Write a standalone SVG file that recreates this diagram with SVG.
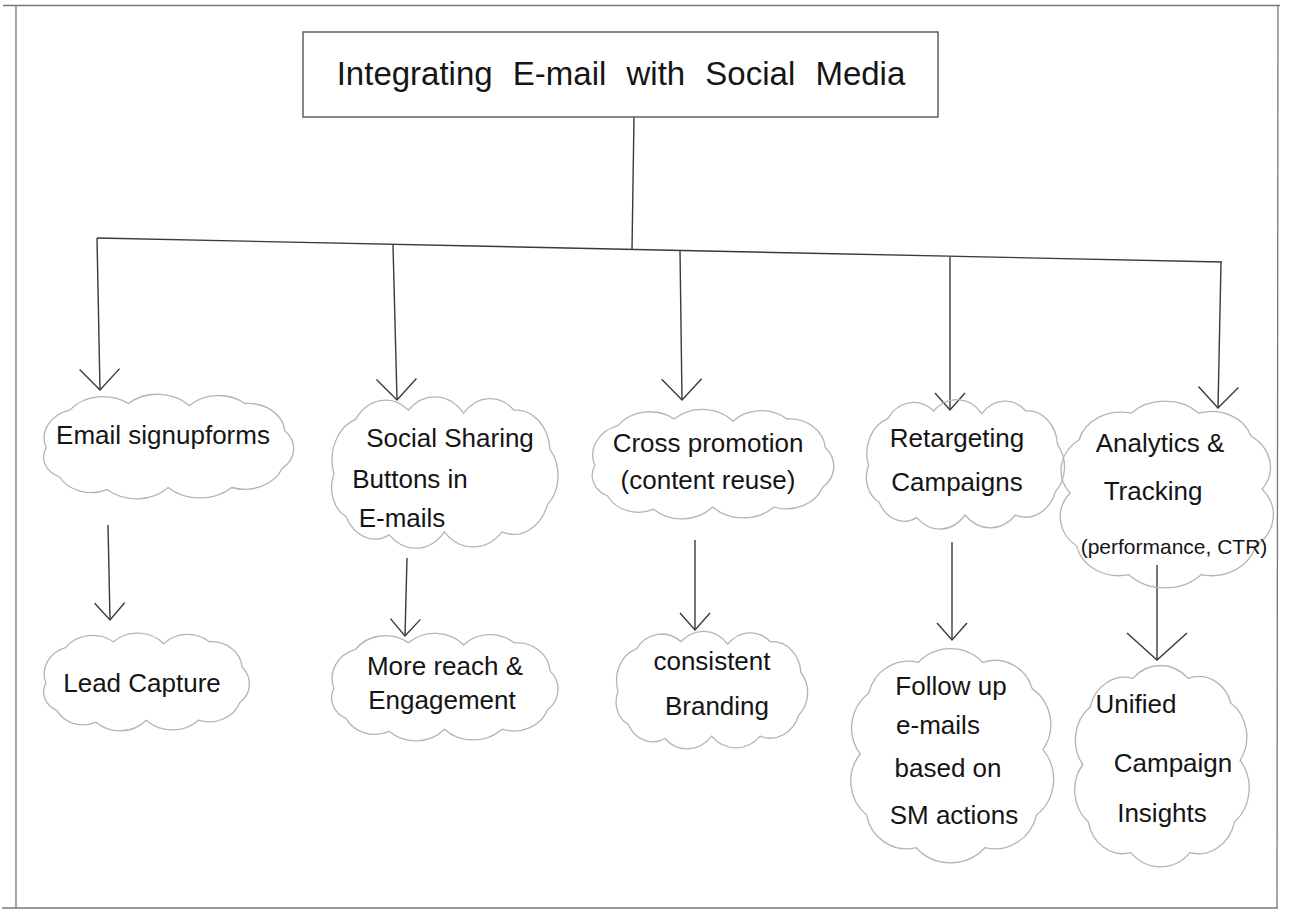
<svg xmlns="http://www.w3.org/2000/svg" xmlns:xlink="http://www.w3.org/1999/xlink" width="1290" height="913" viewBox="0 0 1290 913">
<style>
.page{stroke:#777;stroke-width:1.3;fill:none}
.box{stroke:#555;stroke-width:1.4;fill:none}
.conn{stroke:#3a3a3a;stroke-width:1.4;fill:none}
.cl{stroke:#b4b4b4;stroke-width:1.3;fill:none}
text{font-family:"Liberation Sans",Arial,sans-serif;fill:#151515;text-anchor:middle;dominant-baseline:middle}
.t{font-size:26px}
.title{font-size:33px;word-spacing:11px}
</style>
<defs>
<path id="cloudW" vector-effect="non-scaling-stroke" d="M10,52 A28,28 0 0 1 28,16 A31,31 0 0 1 72,10 A32,32 0 0 1 118,12 A30,30 0 0 1 160,10 A28,28 0 0 1 190,36 A25,25 0 0 1 188,72 A30,30 0 0 1 150,90 A34,34 0 0 1 102,90 A32,32 0 0 1 56,92 A27,27 0 0 1 20,80 A21,21 0 0 1 10,52 Z"/>
<path id="cloudT" vector-effect="non-scaling-stroke" d="M8,50 A20,20 0 0 1 12,22 A19,19 0 0 1 35,8 A21,21 0 0 1 65,8 A18,18 0 0 1 88,20 A20,20 0 0 1 93,48 A21,21 0 0 1 90,78 A20,20 0 0 1 66,93 A22,22 0 0 1 34,93 A19,19 0 0 1 11,78 A20,20 0 0 1 8,50 Z"/>
<marker id="big" viewBox="-24 -22 27 44" refX="0" refY="0" markerWidth="27" markerHeight="44" markerUnits="userSpaceOnUse" orient="auto">
<path d="M-21,-20 L0,0 L-21,20" fill="none" stroke="#3a3a3a" stroke-width="1.4"/>
</marker>
<marker id="mid" viewBox="-20 -18 23 36" refX="0" refY="0" markerWidth="23" markerHeight="36" markerUnits="userSpaceOnUse" orient="auto">
<path d="M-17,-15 L0,0 L-17,15" fill="none" stroke="#3a3a3a" stroke-width="1.4"/>
</marker>
<marker id="huge" viewBox="-30 -34 33 68" refX="0" refY="0" markerWidth="33" markerHeight="68" markerUnits="userSpaceOnUse" orient="auto">
<path d="M-27,-30 L0,0 L-27,30" fill="none" stroke="#3a3a3a" stroke-width="1.4"/>
</marker>
</defs>
<rect width="1290" height="913" fill="#ffffff"/>
<g id="page">
<line class="page" x1="3" y1="5.5" x2="1280" y2="5.5"/>
<line class="page" x1="16" y1="5" x2="16" y2="908"/>
<line class="page" x1="1278" y1="5" x2="1277" y2="908"/>
<line class="page" x1="2" y1="908" x2="1278" y2="908"/>
</g>
<g id="connectors">
<line class="conn" x1="634" y1="117" x2="632" y2="250"/>
<line class="conn" x1="97" y1="238" x2="1222" y2="262"/>
<line class="conn" x1="97" y1="238" x2="100" y2="390" marker-end="url(#big)"/>
<line class="conn" x1="393" y1="245" x2="397" y2="400" marker-end="url(#big)"/>
<line class="conn" x1="680" y1="251" x2="682" y2="400" marker-end="url(#big)"/>
<line class="conn" x1="950" y1="257" x2="950" y2="410" marker-end="url(#mid)"/>
<line class="conn" x1="1221" y1="262" x2="1218" y2="408" marker-end="url(#big)"/>
<line class="conn" x1="108" y1="525" x2="110" y2="620" marker-end="url(#mid)"/>
<line class="conn" x1="407" y1="558" x2="405" y2="636" marker-end="url(#mid)"/>
<line class="conn" x1="695" y1="540" x2="695" y2="630" marker-end="url(#mid)"/>
<line class="conn" x1="952" y1="542" x2="952" y2="640" marker-end="url(#mid)"/>
<line class="conn" x1="1157" y1="565" x2="1157" y2="660" marker-end="url(#huge)"/>
</g>
<g id="title">
<rect class="box" x="303" y="32" width="635" height="85"/>
<text class="title" x="621" y="76">Integrating E-mail with Social Media</text>
</g>
<g id="email-signup">
<use class="cl" href="#cloudW" transform="translate(33,393) scale(1.325,1.05)"/>
<text class="t" x="163" y="437">Email signupforms</text>
</g>
<g id="lead-capture">
<use class="cl" href="#cloudW" transform="translate(35,632) scale(1.09,0.98)"/>
<text class="t" x="142" y="685">Lead Capture</text>
</g>
<g id="social-sharing">
<use class="cl" href="#cloudW" transform="translate(322,395) scale(1.2,1.52)"/>
<text class="t" x="450" y="440">Social Sharing</text>
<text class="t" x="410" y="481">Buttons in</text>
<text class="t" x="402" y="520">E-mails</text>
</g>
<g id="more-reach">
<use class="cl" href="#cloudW" transform="translate(322,632) scale(1.2,1.08)"/>
<text class="t" x="445" y="668">More reach &amp;</text>
<text class="t" x="442" y="702">Engagement</text>
</g>
<g id="cross-promotion">
<use class="cl" href="#cloudW" transform="translate(582,408) scale(1.28,1.1)"/>
<text class="t" x="708" y="445">Cross promotion</text>
<text class="t" x="708" y="482">(content reuse)</text>
</g>
<g id="consistent-branding">
<use class="cl" href="#cloudW" transform="translate(608,630) scale(1.015,1.18)"/>
<text class="t" x="712" y="663">consistent</text>
<text class="t" x="717" y="708">Branding</text>
</g>
<g id="retargeting">
<use class="cl" href="#cloudW" transform="translate(858,398) scale(1.05,1.3)"/>
<text class="t" x="957" y="440">Retargeting</text>
<text class="t" x="957" y="484">Campaigns</text>
</g>
<g id="follow-up">
<use class="cl" href="#cloudT" transform="translate(843,645) scale(2.15,2.18)"/>
<text class="t" x="951" y="688">Follow up</text>
<text class="t" x="938" y="727">e-mails</text>
<text class="t" x="948" y="770">based on</text>
<text class="t" x="954" y="817">SM actions</text>
</g>
<g id="analytics">
<use class="cl" href="#cloudT" transform="translate(1052,398) scale(2.26,1.9)"/>
<text class="t" x="1160" y="445">Analytics &amp;</text>
<text class="t" x="1153" y="493">Tracking</text>
<text x="1174" y="548" style="font-size:21px">(performance, CTR)</text>
</g>
<g id="unified">
<use class="cl" href="#cloudT" transform="translate(1068,662) scale(1.85,2.05)"/>
<text class="t" x="1136" y="706">Unified</text>
<text class="t" x="1173" y="765">Campaign</text>
<text class="t" x="1162" y="815">Insights</text>
</g>
</svg>
